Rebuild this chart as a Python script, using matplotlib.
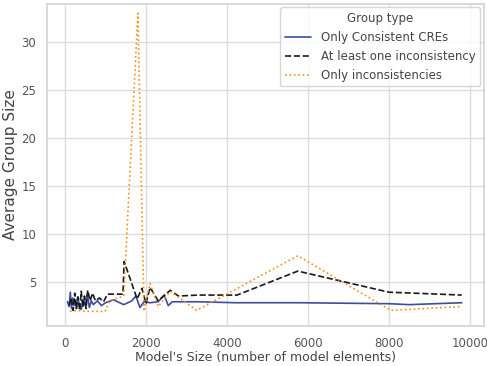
import matplotlib
matplotlib.use("Agg")
import matplotlib.pyplot as plt
import seaborn as sns

# Only consistent CREs
cons_x = [60, 100, 130, 160, 190, 220, 250, 280, 310, 350, 400, 450, 500, 550, 600, 650, 700,
          800, 900, 1000, 1200, 1450, 1650, 1750, 1850, 1950, 2100, 2300, 2450, 2550, 2650,
          2800, 3300, 4200, 5800, 8000, 8500, 9800]
cons_y = [2.9, 2.4, 3.9, 2.2, 3.3, 2.5, 3.0, 2.2, 3.4, 2.6, 2.1, 3.2, 2.5, 3.7, 2.3, 3.0, 2.6,
          3.0, 2.5, 2.8, 3.1, 2.6, 3.0, 3.5, 2.3, 2.9, 2.8, 2.9, 3.6, 2.5, 2.9,
          2.9, 2.9, 2.8, 2.8, 2.7, 2.6, 2.8]

# At least one inconsistency
mixed_x = [100, 150, 200, 240, 280, 320, 360, 400, 440, 480, 520, 560, 620, 680, 750, 850, 950,
           1050, 1430, 1460, 1780, 1900, 2000, 2100, 2300, 2600, 2800, 3300, 4250, 5750, 8000, 9800]
mixed_y = [2.5, 3.3, 2.0, 3.8, 2.2, 3.4, 2.0, 4.0, 2.3, 3.5, 2.2, 4.1, 3.0, 3.8, 3.0, 3.3, 2.9,
           3.7, 3.7, 7.1, 3.2, 4.3, 2.7, 4.4, 3.0, 4.1, 3.5, 3.6, 3.6, 6.1, 3.9, 3.6]

# Only inconsistencies
incons_x = [120, 300, 500, 990, 1100, 1450, 1800, 1950, 2100, 2300, 2600, 3250, 5750, 8050, 9800]
incons_y = [1.9, 2.0, 1.9, 1.9, 3.0, 3.5, 33.0, 1.9, 4.8, 2.4, 4.0, 2.0, 7.7, 2.0, 2.4]

sns.set_theme(style="whitegrid", rc={"grid.color": "#dddddd", "axes.edgecolor": "#d5d5d5"})

fig, ax = plt.subplots(figsize=(4.87, 3.66), dpi=100)
fig.subplots_adjust(left=0.097, right=0.993, top=0.99, bottom=0.11)

ax.plot(cons_x, cons_y, color="#3b4f9e", linestyle="-", linewidth=1.2, label="Only Consistent CREs")
ax.plot(mixed_x, mixed_y, color="#1a1a1a", linestyle="--", linewidth=1.2, label="At least one inconsistency")
ax.plot(incons_x, incons_y, color="#ff8c1a", linestyle=":", linewidth=1.2, label="Only inconsistencies")

ax.set_xlim(-440, 10340)
ax.set_ylim(0.4, 34)
ax.set_yticks([5, 10, 15, 20, 25, 30])
ax.set_xticks([0, 2000, 4000, 6000, 8000, 10000])
ax.tick_params(labelsize=8.5, colors="#555555", pad=2)

ax.set_xlabel("Model's Size (number of model elements)", fontsize=9, color="#444444", labelpad=1)
ax.set_ylabel("Average Group Size", fontsize=11, color="#444444", labelpad=2)

leg = ax.legend(title="Group type", loc="upper right", fontsize=8.5, title_fontsize=8.5,
                borderaxespad=0.3, handlelength=2.2)
for t in leg.get_texts():
    t.set_color("#444444")
leg.get_title().set_color("#444444")

fig.savefig("out.png", dpi=100)
